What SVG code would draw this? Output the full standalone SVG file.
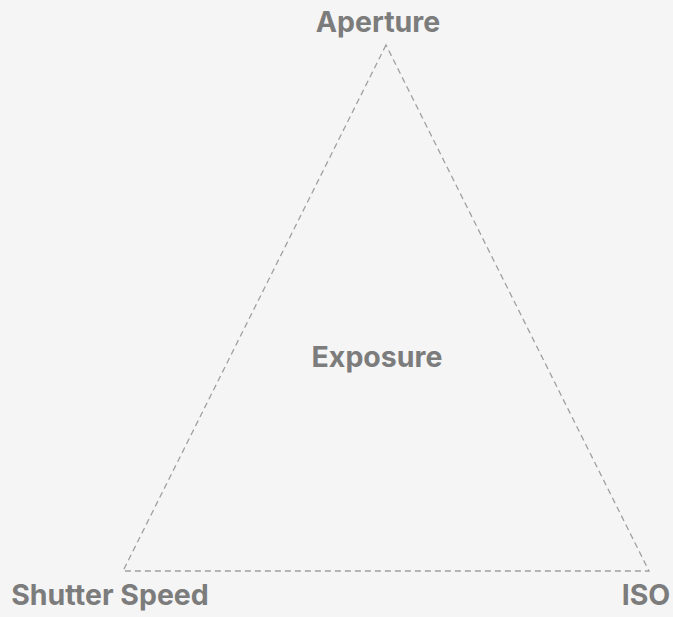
<svg xmlns="http://www.w3.org/2000/svg" width="673" height="617" viewBox="0 0 673 617">
<style>
.lbl{font-family:Inter,"Liberation Sans",sans-serif;font-weight:700;font-size:28.5px;fill:#7c7c7c;text-anchor:middle}
.edge{fill:none;stroke:#a0a0a0;stroke-width:1.3;stroke-dasharray:6 4}
</style>
<rect width="673" height="617" fill="#f5f5f5"/>
<g id="connectors">
<path class="edge" d="M386 45 L123 571 L649 571 Z"/>
</g>
<g id="aperture"><text class="lbl" x="378" y="32">Aperture</text></g>
<g id="exposure"><text class="lbl" x="377" y="367">Exposure</text></g>
<g id="shutter"><text class="lbl" x="110" y="605">Shutter Speed</text></g>
<g id="iso"><text class="lbl" x="646" y="605">ISO</text></g>
</svg>
